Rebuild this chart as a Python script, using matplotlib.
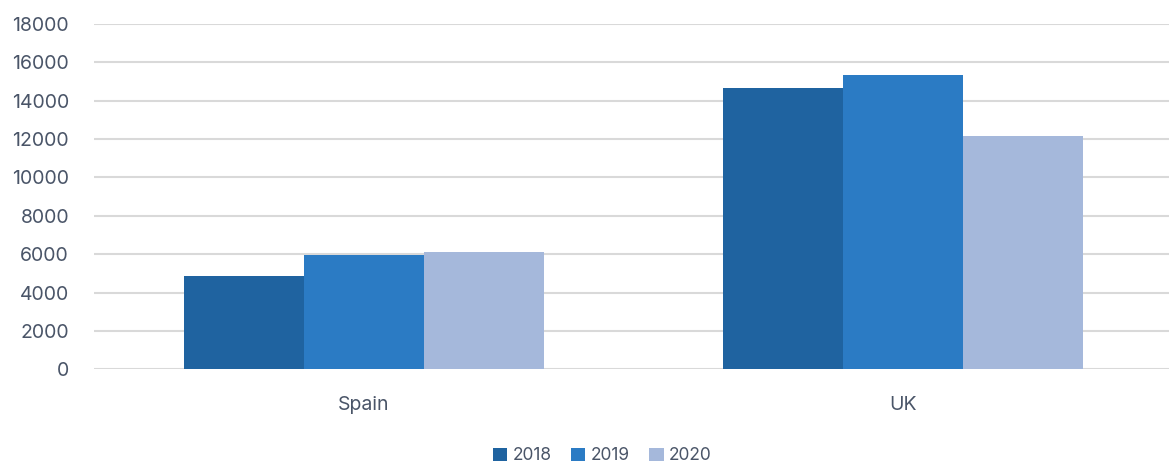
import matplotlib.pyplot as plt
import numpy as np

# --- donnees ---
countries = ["Spain", "UK"]
years = ["2018", "2019", "2020"]
v2018 = [4850, 14670]
v2019 = [5960, 15330]
v2020 = [6120, 12150]
colors = ["#1F63A0", "#2B7BC4", "#A5B8DB"]

text_col = "#4A5568"
plt.rcParams['font.family'] = ['Inter', 'DejaVu Sans']

fig = plt.figure(figsize=(11.69, 4.67), dpi=100)
ax = fig.add_axes([94/1169, 1 - 369.3/467, 1 - 94/1169, (369.3 - 24)/467])

x = np.arange(len(countries))
w = 0.2226
for i, (vals, lab) in enumerate(zip([v2018, v2019, v2020], years)):
    ax.bar(x + (i - 1) * w, vals, width=w, color=colors[i], label=lab, zorder=3)

ax.set_ylim(0, 18000)
ax.set_xlim(-0.501, 1.494)
ax.set_yticks(np.arange(0, 18001, 2000))
ax.set_xticks(x)
ax.set_xticklabels(countries)
ax.grid(axis='y', color='#D9D9D9', linewidth=1.5, zorder=0)
ax.set_axisbelow(True)
for s in ax.spines.values():
    s.set_visible(False)
ax.tick_params(axis='both', length=0, labelsize=14, colors=text_col)
ax.tick_params(axis='y', pad=18)
ax.tick_params(axis='x', pad=19)

leg = fig.legend(loc='center', bbox_to_anchor=(602/1169, 1 - 456/467), ncol=3, frameon=False,
                 fontsize=12.5, handlelength=0.85, handleheight=0.85, handletextpad=0.3,
                 columnspacing=1.1)
for t in leg.get_texts():
    t.set_color(text_col)

fig.savefig("out.png", dpi=100)
